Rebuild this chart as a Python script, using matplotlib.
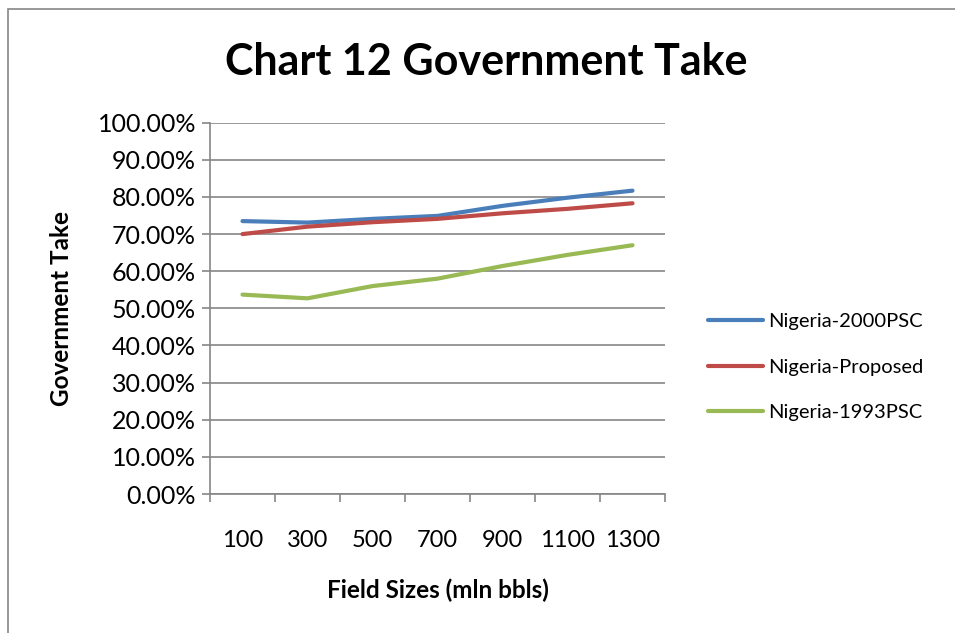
import matplotlib
matplotlib.use("Agg")
import matplotlib.pyplot as plt
from matplotlib.patches import Rectangle
from matplotlib.ticker import FixedLocator, PercentFormatter

plt.rcParams['font.family'] = ['Lato', 'DejaVu Sans']

categories = ["100", "300", "500", "700", "900", "1100", "1300"]
nigeria_2000psc = [0.735, 0.731, 0.741, 0.749, 0.776, 0.798, 0.817]
nigeria_proposed = [0.700, 0.720, 0.732, 0.741, 0.756, 0.768, 0.783]
nigeria_1993psc = [0.537, 0.527, 0.560, 0.580, 0.614, 0.644, 0.670]
series_names = ["Nigeria-2000PSC", "Nigeria-Proposed", "Nigeria-1993PSC"]
colors = ["#4A7EBB", "#BE4B48", "#98B954"]

fig = plt.figure(figsize=(9.55, 6.33), dpi=100)
fig.patches.append(Rectangle((8/955, -0.1), 1.2, (633-9)/633 + 0.1, transform=fig.transFigure,
                             fill=False, edgecolor="#868686", linewidth=1.2))

ax = fig.add_axes([210/955, (633-494)/633, 455/955, (494-122.7)/633])
x = list(range(len(categories)))
for vals, name, c in zip([nigeria_2000psc, nigeria_proposed, nigeria_1993psc], series_names, colors):
    ax.plot(x, vals, color=c, linewidth=3, label=name, solid_capstyle='round')

ax.set_xlim(-0.5, len(categories) - 0.5)
ax.set_ylim(0, 1.0)
ax.set_yticks([i / 10 for i in range(11)])
ax.yaxis.set_major_formatter(PercentFormatter(1.0, decimals=2))
ax.set_xticks(x)
ax.set_xticklabels(categories)
ax.xaxis.set_minor_locator(FixedLocator([i - 0.5 for i in range(len(categories) + 1)]))
ax.tick_params(axis='x', which='major', length=0, pad=26, labelsize=17)
ax.tick_params(axis='x', which='minor', length=6, width=1.2, color="#868686", direction='out')
ax.tick_params(axis='y', which='major', length=6, width=1.2, color="#868686", direction='out', labelsize=18, pad=4)

ax.grid(axis='y', color="#868686", linewidth=1.2)
ax.set_axisbelow(True)
for s in ['top', 'right']:
    ax.spines[s].set_visible(False)
for s in ['left', 'bottom']:
    ax.spines[s].set_color("#868686")
    ax.spines[s].set_linewidth(1.2)

ax.set_ylabel("Government Take", fontsize=17.5, fontweight='bold', labelpad=18)
ax.set_xlabel("Field Sizes (mln bbls)", fontsize=17.5, fontweight='bold', labelpad=20)
fig.text(486/955, 1 - 62/633, "Chart 12 Government Take", fontsize=31, fontweight='bold',
         ha='center', va='center')

leg = ax.legend(loc='center left', bbox_to_anchor=(1.077, 0.342), frameon=False, fontsize=14.5,
                handlelength=2.75, handletextpad=0.25, labelspacing=1.42, borderaxespad=0)

fig.savefig("out.png", dpi=100)
